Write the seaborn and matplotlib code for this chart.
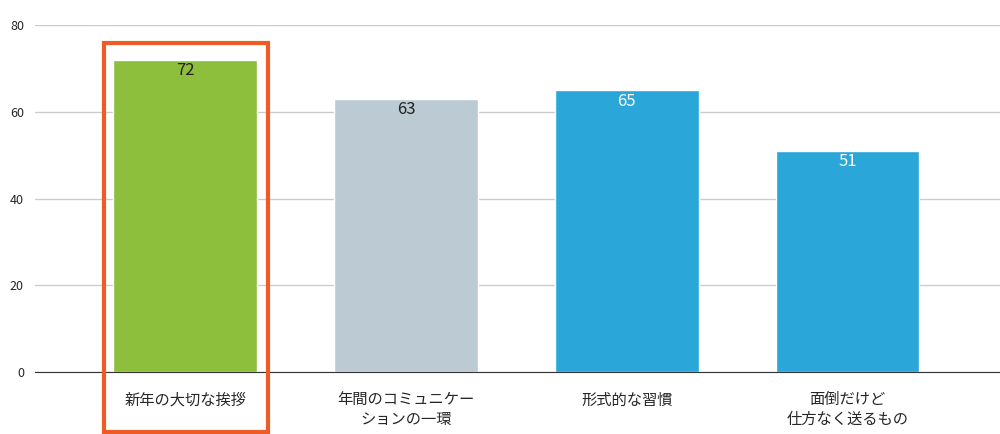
import matplotlib
matplotlib.use("Agg")
import matplotlib.pyplot as plt
import seaborn as sns
from matplotlib.patches import Rectangle

categories = ["新年の大切な挨拶", "年間のコミュニケー\nション の一環".replace(" ", ""), "形式的な習慣", "面倒だけど\n仕方なく送るもの"]
values = [72, 63, 65, 51]
bar_colors = ["#8dbe3c", "#bccad3", "#2aa6d9", "#2aa6d9"]
label_colors = ["#222222", "#222222", "white", "white"]

sns.set_style("white")
plt.rcParams["font.family"] = ["Noto Sans CJK JP", "DejaVu Sans"]

fig = plt.figure(figsize=(10, 4.34), dpi=100)
ax = fig.add_axes([0.035, 0.143, 0.965, 0.799])

sns.barplot(x=categories, y=values, hue=categories, palette=bar_colors,
            width=0.65, legend=False, ax=ax, saturation=1)

for i, v in enumerate(values):
    ax.text(i, v - 2.5, str(v), ha="center", va="center", fontsize=12,
            color=label_colors[i])

ax.set_ylim(0, 80)
ax.set_xlim(-0.68, 3.69)
ax.set_yticks([0, 20, 40, 60, 80])
ax.tick_params(axis="y", labelsize=9, length=0, pad=8)
ax.tick_params(axis="x", labelsize=11, length=0, pad=14)
ax.yaxis.grid(True, color="#cccccc", lw=1)
ax.set_axisbelow(True)
for s in ["left", "right", "top"]:
    ax.spines[s].set_visible(False)
ax.spines["bottom"].set_color("#333333")

# highlight box around the first category
fig.patches.append(Rectangle((0.104, 0.005), 0.164, 0.895, transform=fig.transFigure,
                             fill=False, edgecolor="#ef5b25", lw=3))

fig.savefig("out.png", dpi=100)
